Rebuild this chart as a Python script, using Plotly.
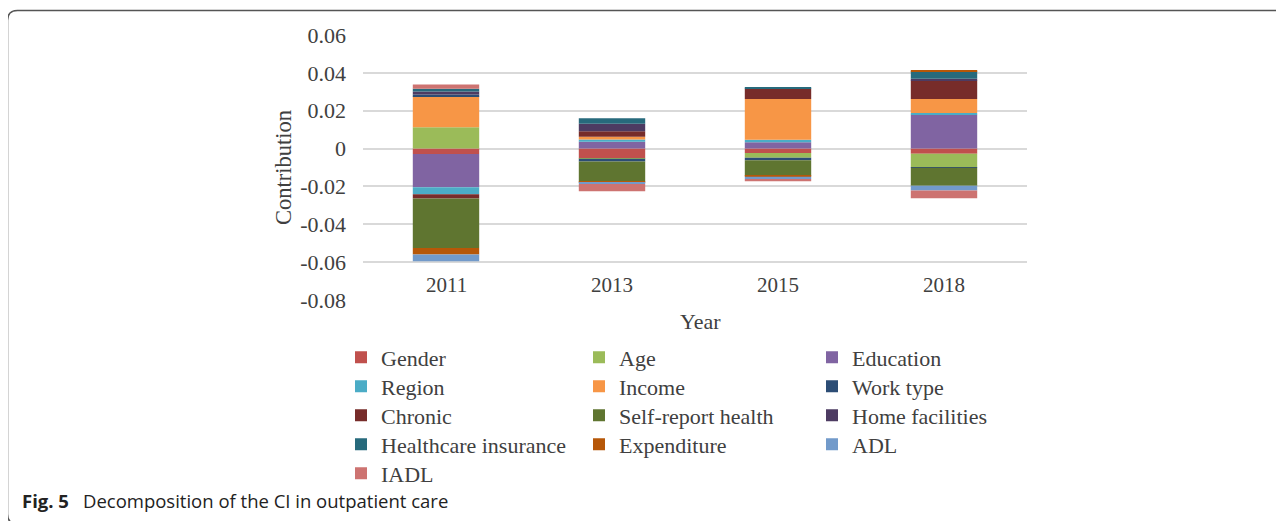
import plotly.graph_objects as go

years = ["2011", "2013", "2015", "2018"]

factors = ["Gender", "Age", "Education", "Region", "Income", "Work type", "Chronic",
           "Self-report health", "Home facilities", "Healthcare insurance",
           "Expenditure", "ADL", "IADL"]

gender = [-0.0029, -0.0052, -0.0024, -0.0028]
age = [0.0113, -0.0002, -0.0024, -0.0070]
education = [-0.0175, 0.0036, 0.0033, 0.0179]
region = [-0.0037, 0.0012, 0.0014, 0.0009]
income = [0.0164, 0.0014, 0.0215, 0.0074]
work_type = [0.0008, -0.0014, -0.0014, -0.0003]
chronic = [-0.0023, 0.0029, 0.0056, 0.0098]
self_report_health = [-0.0261, -0.0107, -0.0082, -0.0096]
home_facilities = [0.0017, 0.0040, 0.0000, 0.0009]
healthcare_insurance = [0.0014, 0.0029, 0.0004, 0.0039]
expenditure = [-0.0035, -0.0002, -0.0005, 0.0004]
adl = [-0.0035, -0.0010, -0.0012, -0.0025]
iadl = [0.0023, -0.0038, -0.0012, -0.0040]

series = [gender, age, education, region, income, work_type, chronic,
          self_report_health, home_facilities, healthcare_insurance,
          expenditure, adl, iadl]

colors = ["#C0504D", "#9BBB59", "#8064A2", "#4BACC6", "#F79646", "#2C4D75",
          "#772C2A", "#5F7530", "#4D3B62", "#276A7C", "#B65708", "#729ACA", "#CD7371"]

y_ticks = [0.06, 0.04, 0.02, 0, -0.02, -0.04, -0.06, -0.08]
y_tick_labels = [f"{v:g}" for v in y_ticks]

# page body has an 8px margin; layout coordinates below are in window pixels
OFF = 8
WIN_W, WIN_H = 1284, 521
W, H = WIN_W - OFF, WIN_H - OFF
L, R, T, B = 363, 1027, 35, 300
PW, PH = R - L, B - T


def px(x):
    return (x - L) / PW


def py(y):
    return (B - y) / PH


TXT = "#404040"
SERIF = "Liberation Serif, Times New Roman, serif"
LEG_FONT = 22

# legend grid: 3 columns, rows 29px apart (one small legend per entry)
col_text_x = [381, 619, 852]
row0_center, row_step = 357.5, 29

fig = go.Figure()
legends = {}
for i, (name, vals, col) in enumerate(zip(factors, series, colors)):
    lid = "legend" if i == 0 else f"legend{i + 1}"
    fig.add_trace(go.Bar(
        x=years, y=vals, name=name, marker=dict(color=col, line=dict(width=0)),
        legend=lid,
    ))
    c, r = i % 3, i // 3
    legends[lid] = dict(
        x=px(col_text_x[c] - 40), y=py(row0_center + r * row_step - 21),
        xanchor="left", yanchor="top", orientation="v",
        font=dict(family=SERIF, size=LEG_FONT, color=TXT),
        bgcolor="rgba(0,0,0,0)", borderwidth=0, itemwidth=30,
    )
fig.update_layout(**legends)

frame_x0, frame_x1 = px(7.5), px(1300)
frame_y0, frame_y1 = py(10.5), py(524)
rx, ry = 10 / PW, 10 / PH
frame_path = (f"M{frame_x1},{frame_y0} L{frame_x0 + rx},{frame_y0} "
              f"Q{frame_x0},{frame_y0} {frame_x0},{frame_y0 - ry} "
              f"L{frame_x0},{frame_y1 + ry} Q{frame_x0},{frame_y1} {frame_x0 + rx},{frame_y1} "
              f"L{frame_x1},{frame_y1}")

annotations = [
    dict(x=i, y=py(285), xref="x", yref="paper", text=yr, showarrow=False,
         font=dict(family=SERIF, size=21, color=TXT), xanchor="center", yanchor="middle")
    for i, yr in enumerate(years)
]
annotations += [
    dict(x=px(700), y=py(321), xref="paper", yref="paper", text="Year", showarrow=False,
         font=dict(family=SERIF, size=22, color=TXT), xanchor="center", yanchor="middle"),
    dict(x=px(283), y=py(168), xref="paper", yref="paper", text="Contribution", showarrow=False,
         textangle=-90, font=dict(family=SERIF, size=22.5, color=TXT),
         xanchor="center", yanchor="middle"),
    dict(x=px(20), y=py(500), xref="paper", yref="paper",
         text="<b>Fig. 5</b>\u2002 Decomposition of the CI in outpatient care",
         showarrow=False, font=dict(family="Open Sans, sans-serif", size=18.5, color="#222222"),
         xanchor="left", yanchor="middle"),
]

fig.update_layout(
    width=W, height=H,
    margin=dict(l=L - OFF, r=WIN_W - R, t=T - OFF, b=WIN_H - B, pad=0, autoexpand=False),
    paper_bgcolor="white", plot_bgcolor="white",
    barmode="relative", bargap=0.6,
    showlegend=True,
    xaxis=dict(type="category", range=[-0.5, len(years) - 0.5], showticklabels=False,
               showgrid=False, zeroline=False, showline=False, ticks=""),
    yaxis=dict(range=[-0.08, 0.06], tickvals=y_ticks, ticktext=y_tick_labels,
               showgrid=True, gridcolor="#D9D9D9", gridwidth=1.5,
               zeroline=True, zerolinecolor="#D9D9D9", zerolinewidth=1.5,
               showline=False, ticks="", ticklabelstandoff=16,
               tickfont=dict(family=SERIF, size=22, color=TXT)),
    annotations=annotations,
    shapes=[dict(type="path", xref="paper", yref="paper", path=frame_path,
                 line=dict(color="#555555", width=1.5), layer="above")],
)

fig.write_html("out.html")
